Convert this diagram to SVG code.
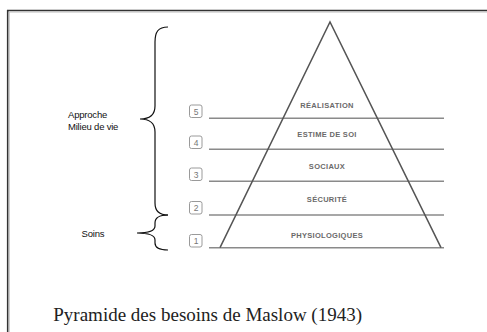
<svg xmlns="http://www.w3.org/2000/svg" width="487" height="332" viewBox="0 0 487 332">
<style>
.lvl{stroke:#8a8a8a;stroke-width:1.5;fill:none}
.side{stroke:#555;stroke-width:1.5;fill:none}
.box{fill:#fff;stroke:#9a9a9a;stroke-width:1}
.num{font-family:"Liberation Sans",Arial,sans-serif;font-size:8.5px;fill:#777;text-anchor:middle}
.lab{font-family:"Liberation Sans",Arial,sans-serif;font-size:7.5px;font-weight:bold;fill:#6a6a6a;text-anchor:middle;letter-spacing:0.3px}
.brace{stroke:#111;stroke-width:1.2;fill:none}
.side-txt{font-family:"Liberation Sans",Arial,sans-serif;font-size:9.5px;fill:#111;letter-spacing:-0.2px}
.cap{font-family:"Liberation Serif","Times New Roman",serif;font-size:19px;fill:#222}
</style>
<rect width="487" height="332" fill="#fff"/>
<g id="frame">
<line x1="7" y1="10.5" x2="487" y2="10.5" stroke="#333" stroke-width="1.6"/>
<line x1="9" y1="12" x2="487" y2="12" stroke="#bbb" stroke-width="1"/>
<line x1="7.7" y1="10" x2="7.7" y2="332" stroke="#333" stroke-width="1.6"/>
<line x1="9.2" y1="12" x2="9.2" y2="332" stroke="#bbb" stroke-width="1"/>
</g>
<g id="connectors">
<line class="lvl" x1="209" y1="118.3" x2="444" y2="118.3"/>
<line class="lvl" x1="209" y1="149.3" x2="444" y2="149.3"/>
<line class="lvl" x1="209" y1="181.3" x2="444" y2="181.3"/>
<line class="lvl" x1="209" y1="215" x2="444" y2="215"/>
<line class="lvl" x1="209" y1="247.7" x2="444" y2="247.7"/>
</g>
<g id="pyramid">
<polyline class="side" points="220,247.7 330,22 441,247.7"/>
</g>
<g id="level-5">
<rect class="box" x="189.5" y="105" width="12.5" height="12.5" rx="2"/>
<text class="num" x="196" y="114.5">5</text>
<text class="lab" x="327" y="107.5">RÉALISATION</text>
</g>
<g id="level-4">
<rect class="box" x="189.5" y="136" width="12.5" height="12.5" rx="2"/>
<text class="num" x="196" y="145.5">4</text>
<text class="lab" x="327" y="136.5">ESTIME DE SOI</text>
</g>
<g id="level-3">
<rect class="box" x="189.5" y="168" width="12.5" height="12.5" rx="2"/>
<text class="num" x="196" y="177.5">3</text>
<text class="lab" x="327" y="168.5">SOCIAUX</text>
</g>
<g id="level-2">
<rect class="box" x="189.5" y="201.5" width="12.5" height="12.5" rx="2"/>
<text class="num" x="196" y="211">2</text>
<text class="lab" x="327" y="201.5">SÉCURITÉ</text>
</g>
<g id="level-1">
<rect class="box" x="189.5" y="234.5" width="12.5" height="12.5" rx="2"/>
<text class="num" x="196" y="244">1</text>
<text class="lab" x="327" y="237.5">PHYSIOLOGIQUES</text>
</g>
<g id="approche">
<path class="brace" d="M168,27 C158,27 155,32 155,42 L155,106 C155,114 150,119 140,119 C150,119 155,124 155,132 L155,203 C155,211 160,215 168,215"/>
<text class="side-txt" x="68" y="118">Approche</text>
<text class="side-txt" x="68" y="130">Milieu de vie</text>
</g>
<g id="soins">
<path class="brace" d="M168,215 C159,215 155,218 155,223 L155,226 C155,230 150,233 137,233 C150,233 155,236 155,240 L155,243 C155,248 159,250 168,250"/>
<text class="side-txt" x="81.5" y="237">Soins</text>
</g>
<text class="cap" x="53.3" y="320.7">Pyramide des besoins de Maslow (1943)</text>
</svg>
